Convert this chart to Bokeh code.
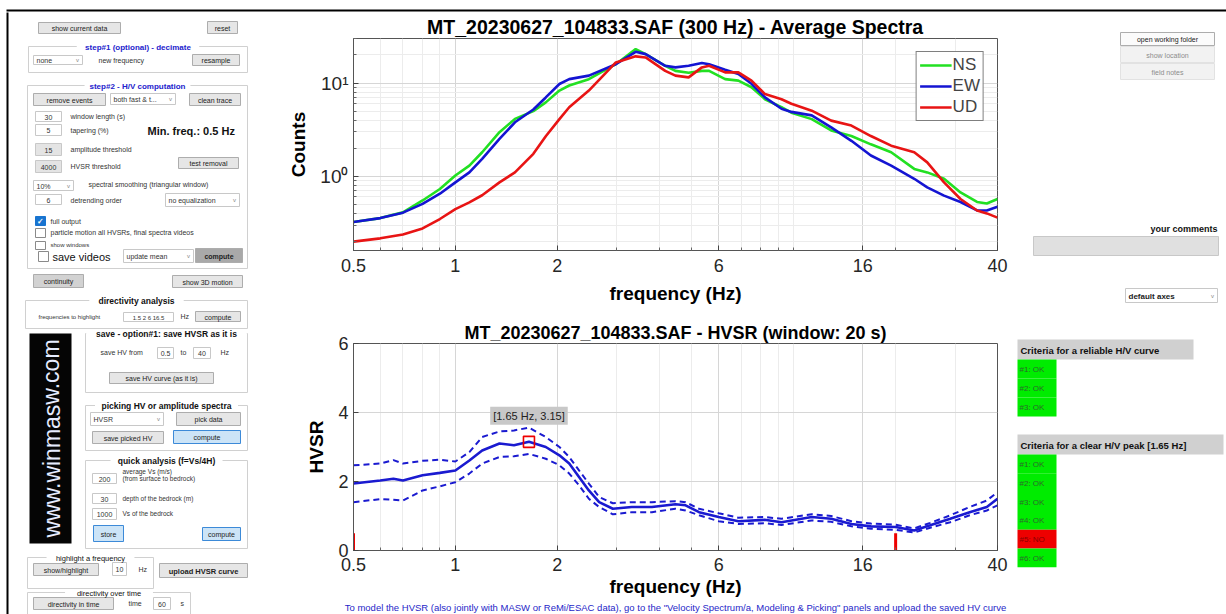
import math
from bokeh.plotting import figure
from bokeh.models import (Range1d, FixedTicker, ColumnDataSource, Legend, LegendItem,
                          Label, Title)
from bokeh.layouts import row, column
from bokeh.embed import file_html
from bokeh.resources import INLINE
from bokeh.core.properties import value

FONT = "Liberation Sans"

# ------------------------------------------------------------------ data
freq_spec = [0.5, 0.6, 0.7, 0.8, 0.9, 1.0, 1.1, 1.2, 1.35, 1.5, 1.7, 1.85, 2.03, 2.17,
             2.48, 2.98, 3.41, 3.65, 4.17, 4.47, 4.89, 5.35, 5.62, 6.27, 6.86, 7.5,
             8.22, 9.2, 9.84, 11.3, 12.9, 14.8, 16.9, 19.4, 22.7, 24.8, 27.8, 31.1,
             34.8, 37.2, 40.0]
spec_ns = [0.324, 0.356, 0.41, 0.55, 0.73, 1.02, 1.30, 1.81, 2.97, 4.12, 5.0, 6.2, 8.3,
           9.4, 11.0, 15.9, 23.1, 20.4, 15.3, 13.5, 12.9, 13.5, 13.5, 11.0, 10.6, 9.0,
           6.7, 5.5, 4.8, 4.1, 3.1, 2.7, 2.2, 1.81, 1.2, 1.10, 0.94, 0.67, 0.53, 0.51, 0.57]
spec_ew = [0.324, 0.356, 0.407, 0.506, 0.65, 0.86, 1.10, 1.54, 2.52, 3.79, 5.2, 7.0, 9.75,
           11.0, 12.0, 15.9, 21.6, 20.4, 15.3, 14.7, 15.3, 16.4, 15.9, 13.9, 12.5, 9.8,
           7.0, 5.3, 4.9, 4.5, 3.35, 2.4, 1.67, 1.30, 0.94, 0.76, 0.62, 0.53, 0.43, 0.43, 0.47]
spec_ud = [0.199, 0.216, 0.238, 0.276, 0.348, 0.444, 0.524, 0.626, 0.86, 1.10, 1.74, 2.69,
           4.1, 5.5, 8.3, 16.6, 19.3, 18.8, 13.5, 12.0, 11.5, 14.7, 15.3, 13.0, 13.0, 10.6,
           7.6, 6.7, 6.0, 5.05, 3.95, 3.5, 2.7, 2.13, 1.81, 1.41, 0.86, 0.57, 0.43, 0.40, 0.36]
spec_names = ["NS", "EW", "UD"]

freq_hv = [0.5, 0.6, 0.656, 0.7, 0.8, 0.9, 1.0, 1.1, 1.2, 1.35, 1.49, 1.65, 1.85, 2.03,
           2.17, 2.32, 2.48, 2.66, 2.92, 3.32, 3.81, 4.47, 4.79, 5.25, 6.0, 6.86, 8.2,
           9.2, 11.3, 12.9, 14.8, 16.9, 20.0, 22.7, 25.3, 29.0, 33.1, 37.2, 40.0]
hv_mean = [1.94, 2.03, 2.08, 2.03, 2.18, 2.25, 2.32, 2.61, 2.90, 3.10, 3.05, 3.15, 3.0,
           2.76, 2.52, 2.13, 1.74, 1.40, 1.21, 1.26, 1.26, 1.34, 1.31, 1.11, 0.97, 0.85,
           0.89, 0.82, 0.97, 0.92, 0.77, 0.70, 0.68, 0.58, 0.73, 0.92, 1.11, 1.26, 1.50]
hv_upper = [2.47, 2.52, 2.62, 2.52, 2.60, 2.63, 2.58, 2.85, 3.29, 3.45, 3.48, 3.56, 3.29,
            3.0, 2.71, 2.32, 1.94, 1.55, 1.37, 1.40, 1.40, 1.43, 1.40, 1.21, 1.08, 0.95,
            0.97, 0.92, 1.05, 1.0, 0.85, 0.78, 0.75, 0.64, 0.80, 1.02, 1.26, 1.45, 1.69]
hv_lower = [1.40, 1.49, 1.47, 1.45, 1.74, 1.86, 1.98, 2.23, 2.52, 2.71, 2.73, 2.80, 2.66,
            2.47, 2.23, 1.89, 1.50, 1.26, 1.05, 1.11, 1.11, 1.21, 1.16, 1.02, 0.85, 0.77,
            0.79, 0.74, 0.87, 0.83, 0.70, 0.63, 0.60, 0.52, 0.66, 0.82, 1.02, 1.16, 1.31]
peak_freq = [1.65]
peak_hv = [3.15]
peak_text = "[1.65 Hz, 3.15]"
limit_freqs = [0.5, 20.0]
limit_base = [0.0, 0.0]
limit_top = [0.5, 0.5]

x_ticks = [0.5, 1, 2, 6, 16, 40]
x_tick_labels = ["0.5", "1", "2", "6", "16", "40"]
x_minor = [0.6, 0.7, 0.8, 0.9, 3, 4, 5, 7, 8, 9, 10, 20, 30]
spec_y_ticks = [1, 10]
spec_y_labels = ["10\u2070", "10\u00b9"]
spec_y_minor = [0.2, 0.3, 0.4, 0.5, 0.6, 0.7, 0.8, 0.9, 2, 3, 4, 5, 6, 7, 8, 9, 20, 30]
hv_y_ticks = [0, 2, 4, 6]
hv_y_labels = ["0", "2", "4", "6"]

crit_curve = ["#1: OK", "#2: OK", "#3: OK"]
crit_curve_ok = [True, True, True]
crit_peak = ["#1: OK", "#2: OK", "#3: OK", "#4: OK", "#5: NO", "#6: OK"]
crit_peak_ok = [True, True, True, True, False, True]

spec_title = "MT_20230627_104833.SAF (300 Hz) - Average Spectra"
hv_title = "MT_20230627_104833.SAF - HVSR (window: 20 s)"
footer = ('To model the HVSR (also jointly with MASW or ReMi/ESAC data), go to the '
          '"Velocity Spectrum/a, Modeling & Picking" panels and upload the saved HV curve')

C_NS, C_EW, C_UD = "#22e022", "#1414d2", "#e81414"
C_HV = "#1a1ad0"


# ------------------------------------------------------------------ helpers
def canvas(w, h, x0, x1, y0, y1):
    p = figure(width=w, height=h, x_range=Range1d(x0, x1), y_range=Range1d(y1, y0),
               output_backend="svg", toolbar_location=None, min_border=0,
               x_axis_location=None, y_axis_location=None)
    p.grid.visible = False
    p.outline_line_color = None
    p.background_fill_color = "white"
    p.border_fill_color = "white"
    return p


class Gui:
    def __init__(self):
        self.q = dict(l=[], r=[], t=[], b=[], fill=[], line=[], lw=[], la=[])
        self.t = dict(x=[], y=[], text=[], size=[], style=[], color=[], align=[], angle=[])

    def box(self, x0, y0, x1, y1, fill="#ffffff", line="#adadad", lw=1.0):
        q = self.q
        q["l"].append(x0); q["r"].append(x1); q["t"].append(y0); q["b"].append(y1)
        q["fill"].append(fill if fill else "#ffffff")
        q["line"].append(line if line else "#ffffff")
        q["lw"].append(lw if line else 0.0)
        q["la"].append(1.0 if fill else 0.0)

    def txt(self, x, y, s, size=7, style="normal", color="#333333", align="left", angle=0.0):
        t = self.t
        t["x"].append(x); t["y"].append(y); t["text"].append(s); t["size"].append(f"{size}px")
        t["style"].append(style); t["color"].append(color); t["align"].append(align)
        t["angle"].append(angle)

    def button(self, x0, y0, x1, y1, s, fill="#e6e6e6", line="#adadad", color="#222222",
               style="normal", size=7):
        self.box(x0, y0, x1, y1, fill, line)
        self.txt((x0 + x1) / 2, (y0 + y1) / 2 + 0.5, s, size, style, color, "center")

    def field(self, x0, y0, x1, y1, s, fill="#ffffff", line="#c8c8c8", size=7):
        self.box(x0, y0, x1, y1, fill, line)
        self.txt((x0 + x1) / 2, (y0 + y1) / 2 + 0.5, s, size, "normal", "#333333", "center")

    def dropdown(self, x0, y0, x1, y1, s, size=7, style="normal", color="#333333"):
        self.box(x0, y0, x1, y1, "#ffffff", "#c8c8c8")
        self.txt(x0 + 3, (y0 + y1) / 2 + 0.5, s, size, style, color, "left")
        self.txt(x1 - 5, (y0 + y1) / 2, "v", 6, "normal", "#888888", "center")

    def panel(self, x0, y0, x1, y1, title, size=8, style="bold", color="#111111"):
        self.box(x0, y0, x1, y1, None, "#d0d0d0")
        w = len(title) * size * 0.52 + 6
        cx = (x0 + x1) / 2
        self.box(cx - w / 2, y0 - 3, cx + w / 2, y0 + 3, "#ffffff", None)
        self.txt(cx, y0 + 0.5, title, size, style, color, "center")

    def check(self, x0, y0, x1, y1, checked=False):
        if checked:
            self.box(x0, y0, x1, y1, "#1874d0", "#1874d0")
            self.txt((x0 + x1) / 2, (y0 + y1) / 2 + 0.5, "\u2713", 8, "bold", "#ffffff", "center")
        else:
            self.box(x0, y0, x1, y1, "#ffffff", "#8a8a8a")

    def draw(self, p):
        qs = ColumnDataSource(self.q)
        p.quad(left="l", right="r", top="t", bottom="b", fill_color="fill", fill_alpha="la",
               line_color="line", line_width="lw", source=qs)
        ts = ColumnDataSource(self.t)
        p.text(x="x", y="y", text="text", text_font_size="size", text_font_style="style",
               text_color="color", text_align="align", angle="angle",
               text_baseline=value("middle"), text_font=value(FONT), source=ts)


# ------------------------------------------------------------------ top strip
strip = canvas(1226, 12, 0, 1226, 0, 12)
sg = Gui()
sg.box(6, 9, 1226, 11, "#000000", None)
sg.draw(strip)

# ------------------------------------------------------------------ left panel
left = canvas(285, 602, 0, 285, 12, 614)
g = Gui()
g.box(6, 9, 8, 614, "#000000", None)
g.button(38, 22, 120, 33, "show current data")
g.button(207, 21, 237, 33, "reset")
g.panel(28, 46, 247, 72, "step#1 (optional) - decimate", 8, "bold", "#2222cc")
g.dropdown(33, 55, 82, 64, "none")
g.txt(98, 60, "new frequency")
g.button(192, 54, 239, 65, "resample")
g.panel(27, 85, 247, 268, "step#2 - H/V computation", 8, "bold", "#2222cc")
g.button(33, 93, 105, 105, "remove events")
g.dropdown(110, 93, 175, 104, "both fast & t...")
g.button(189, 93, 240, 105, "clean trace")
g.field(35, 111, 61, 121, "30"); g.txt(70, 116, "window length (s)")
g.field(35, 124, 61, 135, "5"); g.txt(70, 130, "tapering (%)")
g.txt(147, 130, "Min. freq.: 0.5 Hz", 11, "bold", "#111111")
g.field(35, 143, 61, 155, "15", fill="#e4e4e4"); g.txt(70, 149, "amplitude threshold")
g.field(35, 160, 61, 172, "4000", fill="#e4e4e4"); g.txt(70, 166, "HVSR threshold")
g.button(178, 157, 238, 168, "test removal")
g.dropdown(33, 180, 73, 190, "10%"); g.txt(88, 184, "spectral smoothing (triangular window)")
g.field(35, 194, 61, 204, "6"); g.txt(70, 200, "detrending order")
g.dropdown(165, 193, 239, 206, "no equalization")
g.check(35, 216, 45, 225, True); g.txt(50, 221, "full output")
g.check(35, 228, 45, 237); g.txt(50, 232, "particle motion all HVSRs, final spectra videos")
g.check(35, 241, 45, 249); g.txt(50, 244, "show windows", 6)
g.check(38, 251, 48, 261); g.txt(52, 256, "save videos", 11, "normal", "#111111")
g.dropdown(123, 249, 193, 262, "update mean")
g.button(195, 248, 242, 262, "compute", fill="#a9a9a9", style="bold")
g.button(33, 274, 83, 287, "continuity", fill="#d2d2d2")
g.button(172, 275, 242, 287, "show 3D motion")
g.panel(25, 300, 247, 328, "directivity analysis", 8.5, "bold")
g.txt(38, 316, "frequencies to highlight", 6)
g.field(123, 312, 173, 321, "1.5 2 6 16.5", size=6)
g.txt(180, 316, "Hz")
g.button(195, 311, 240, 321, "compute")
g.box(29, 333, 71, 543, "#050505", None)
g.txt(51, 438, "www.winmasw.com", 23, "normal", "#e6ecff", "center", math.pi / 2)
g.panel(85, 333, 247, 392, "save - option#1: save HVSR as it is", 8.5, "bold")
g.txt(100, 352, "save HV from"); g.field(157, 347, 173, 358, "0.5"); g.txt(180, 352, "to")
g.field(193, 347, 210, 358, "40"); g.txt(220, 352, "Hz")
g.button(109, 372, 213, 383, "save HV curve (as it is)")
g.panel(85, 405, 247, 450, "picking HV or amplitude spectra", 8.5, "bold")
g.dropdown(90, 412, 163, 425, "HVSR")
g.button(176, 412, 240, 425, "pick data")
g.button(92, 431, 163, 443, "save picked HV")
g.button(173, 430, 240, 443, "compute", fill="#cce4f7", line="#3c8ad8")
g.panel(85, 460, 247, 548, "quick analysis (f=Vs/4H)", 8.5, "bold")
g.field(92, 473, 116, 483, "200"); g.txt(122, 471, "average Vs (m/s)", 6.5)
g.txt(122, 478, "(from surface to bedrock)", 6.5)
g.field(92, 493, 116, 503, "30"); g.txt(122, 498, "depth of the bedrock (m)", 6.5)
g.field(92, 508, 116, 519, "1000"); g.txt(122, 513, "Vs of the bedrock", 6.5)
g.button(93, 525, 123, 541, "store", fill="#cce4f7", line="#3c8ad8")
g.button(202, 527, 240, 540, "compute", fill="#cce4f7", line="#3c8ad8")
g.panel(27, 557, 153, 588, "highlight a frequency", 7.5, "normal")
g.button(33, 563, 98, 575, "show/highlight")
g.field(112, 562, 126, 575, "10"); g.txt(138, 569, "Hz")
g.button(159, 563, 247, 577, "upload HVSR curve", style="bold", size=7.5)
g.panel(27, 592, 190, 620, "directivity over time", 7.5, "normal")
g.button(33, 597, 113, 609, "directivity in time")
g.txt(128, 603, "time"); g.field(153, 597, 170, 609, "60"); g.txt(180, 603, "s")
g.draw(left)

# ------------------------------------------------------------------ right panel
right = canvas(216, 602, 1010, 1226, 12, 614)
r = Gui()
r.button(1120, 32, 1214, 45, "open working folder", fill="#fbfbfb")
r.button(1120, 46, 1214, 62, "show location", fill="#f2f2f2", line="#e2e2e2", color="#8c8c8c")
r.button(1120, 63, 1214, 79, "field notes", fill="#f2f2f2", line="#e2e2e2", color="#8c8c8c")
r.txt(1217, 228, "your comments", 9, "bold", "#111111", "right")
r.box(1033, 236, 1218, 255, "#e0e0e0", "#c8c8c8")
r.dropdown(1125, 288, 1217, 302, "default axes", 8, "bold", "#222222")
r.box(1017, 339, 1193, 359, "#d0d0d0", None)
r.txt(1020, 349.5, "Criteria for a reliable H/V curve", 9.5, "bold", "#111111")
for i, (s, ok) in enumerate(zip(crit_curve, crit_curve_ok)):
    y0 = 359 + 19 * i
    r.box(1017, y0, 1056, y0 + 19, "#00ec00" if ok else "#ee0000", None)
    r.txt(1019, y0 + 10, s, 8, "normal", "#2c6a2c" if ok else "#8a0000")
r.box(1017, 434, 1223, 454, "#d0d0d0", None)
r.txt(1020, 444.5, "Criteria for a clear H/V peak [1.65 Hz]", 9.5, "bold", "#111111")
for i, (s, ok) in enumerate(zip(crit_peak, crit_peak_ok)):
    y0 = 454 + 18.8 * i
    r.box(1017, y0, 1056, y0 + 18.8, "#00ec00" if ok else "#ee0000", None)
    r.txt(1019, y0 + 10, s, 8, "normal", "#2c6a2c" if ok else "#8a0000")
r.draw(right)


# ------------------------------------------------------------------ charts
def style_chart(p, ylabel, yticks, ylabels, yminor, title_size):
    p.background_fill_color = "white"
    p.border_fill_color = "white"
    p.outline_line_color = "#555555"
    p.title.align = "center"
    p.title.text_font = FONT
    p.title.text_font_size = title_size
    p.title.text_font_style = "bold"
    p.title.text_color = "#000000"
    p.title.standoff = 2
    xa = p.xaxis[0]
    xa.ticker = FixedTicker(ticks=x_ticks, minor_ticks=x_minor)
    xa.major_label_overrides = {float(k): v for k, v in zip(x_ticks, x_tick_labels)}
    xa.axis_label = "frequency (Hz)"
    ya = p.yaxis[0]
    ya.ticker = FixedTicker(ticks=yticks, minor_ticks=yminor)
    ya.major_label_overrides = {float(k): v for k, v in zip(yticks, ylabels)}
    ya.axis_label = ylabel
    for ax in (xa, ya):
        ax.axis_line_color = "#555555"
        ax.major_tick_line_color = "#444444"
        ax.minor_tick_line_color = "#666666"
        ax.major_tick_in = 5
        ax.major_tick_out = 0
        ax.minor_tick_in = 3 if yminor or ax is xa else 0
        ax.minor_tick_out = 0
        ax.major_label_text_font = FONT
        ax.major_label_text_font_size = "18px"
        ax.major_label_text_color = "#262626"
        ax.axis_label_text_font = FONT
        ax.axis_label_text_font_size = "19px"
        ax.axis_label_text_font_style = "bold"
        ax.axis_label_text_color = "#000000"
    xa.major_label_standoff = 8
    xa.axis_label_standoff = 8
    ya.major_label_standoff = 5
    ya.axis_label_standoff = 8
    p.xgrid.grid_line_color = "#d6d6d6"
    p.xgrid.minor_grid_line_color = "#ececec"
    p.ygrid.grid_line_color = "#d6d6d6"
    p.ygrid.minor_grid_line_color = "#ececec" if yminor else None


top = figure(width=725, height=298, x_axis_type="log", y_axis_type="log",
             x_range=Range1d(0.5, 40), y_range=Range1d(0.16, 30),
             output_backend="svg", toolbar_location=None, title=spec_title,
             min_border_left=65, min_border_right=13, min_border_top=26, min_border_bottom=60)
style_chart(top, "Counts", spec_y_ticks, spec_y_labels, spec_y_minor, "19.5px")
top.yaxis[0].major_label_text_font_size = "19px"
src = ColumnDataSource(dict(f=freq_spec, ns=spec_ns, ew=spec_ew, ud=spec_ud))
r_ns = top.line("f", "ns", source=src, line_color=C_NS, line_width=2.6)
r_ew = top.line("f", "ew", source=src, line_color=C_EW, line_width=2.6)
r_ud = top.line("f", "ud", source=src, line_color=C_UD, line_width=2.6)
legend = Legend(items=[LegendItem(label=n, renderers=[rr]) for n, rr in
                       zip(spec_names, [r_ns, r_ew, r_ud])],
                location="top_right", margin=13, padding=3, spacing=1,
                glyph_width=32, glyph_height=20, label_standoff=1, label_height=20,
                label_text_font=FONT, label_text_font_size="17px",
                border_line_color="#000000", border_line_width=1,
                background_fill_color="white")
top.add_layout(legend)

bot = figure(width=725, height=304, x_axis_type="log",
             x_range=Range1d(0.5, 40), y_range=Range1d(0, 6),
             output_backend="svg", toolbar_location=None, title=hv_title,
             min_border_left=65, min_border_right=13, min_border_top=33, min_border_bottom=64)
style_chart(bot, "HVSR", hv_y_ticks, hv_y_labels, [], "18px")
bot.xaxis[0].major_label_standoff = 7
bot.xaxis[0].axis_label_standoff = 2
hsrc = ColumnDataSource(dict(f=freq_hv, m=hv_mean, u=hv_upper, lo=hv_lower))
bot.line("f", "u", source=hsrc, line_color=C_HV, line_width=2, line_dash="6 4")
bot.line("f", "lo", source=hsrc, line_color=C_HV, line_width=2, line_dash="6 4")
bot.line("f", "m", source=hsrc, line_color=C_HV, line_width=2.6)
bot.segment(x0=limit_freqs, y0=limit_base, x1=limit_freqs, y1=limit_top,
            line_color="#ee0000", line_width=3)
bot.scatter(x=peak_freq, y=peak_hv, marker="square", size=11, fill_color=None,
            line_color="#ee0000", line_width=1.6)
bot.add_layout(Label(x=peak_freq[0], y=peak_hv[0], text=peak_text, text_align="center",
                     text_baseline="middle", y_offset=26, text_font=FONT,
                     text_font_size="11px", text_color="#222222",
                     background_fill_color="#c8c8c8", padding=3))
bot.add_layout(Title(text=footer, align="center", text_font=FONT, text_font_size="9.5px",
                     text_font_style="normal", text_color="#2626c8", standoff=0), "below")

layout = column(strip, row(left, column(top, bot), right))
open("out.html", "w").write(file_html(layout, INLINE))
